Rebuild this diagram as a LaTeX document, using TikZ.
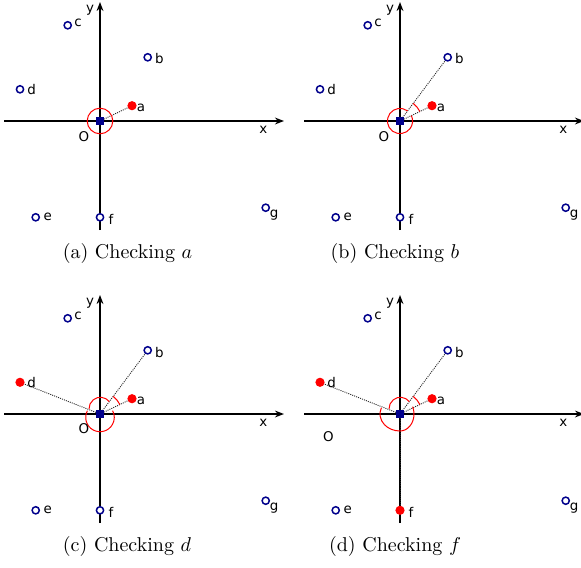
\documentclass[tikz,border=0pt]{standalone}
\usepackage{fontspec}
\newfontfamily\lblfont{DejaVu Sans}
\usetikzlibrary{arrows.meta,backgrounds,calc}
\definecolor{ptblue}{RGB}{0,0,140}
\newcommand\ckpanel[6]{%
 \begin{scope}[shift={(#2,#3)}]
  \coordinate (xs#1) at (4,121);
  \coordinate (xe#1) at (284,121);
  \coordinate (ys#1) at (100,230);
  \coordinate (ye#1) at (100,2);
  \begin{pgfonlayer}{background}
   \draw[axis] (xs#1) -- (xe#1);
   \draw[axis] (ys#1) -- (ye#1);
  \end{pgfonlayer}
  \node[originsq] (O#1) at (100,121) {};
  \node[redpt] (a#1) at (132,105.7) {};
  \node[openpt] (b#1) at (147.7,57.3) {};
  \node[openpt] (c#1) at (67.7,25.3) {};
  \node[#4] (d#1) at (20,89.3) {};
  \node[openpt] (e#1) at (35.7,217.3) {};
  \node[#5] (f#1) at (100,217.3) {};
  \node[openpt] (g#1) at (265.7,207.7) {};
  \node[lbl] (la#1) at (141,108.3) {a};
  \node[lbl] (lb#1) at (159.3,59) {b};
  \node[lbl] (lc#1) at (78,22.7) {c};
  \node[lbl] (ld#1) at (31.7,89.3) {d};
  \node[lbl] (le#1) at (47.7,217.3) {e};
  \node[lbl] (lf#1) at (111,219.3) {f};
  \node[lbl] (lg#1) at (274,215) {g};
  \node[lbl] (lx#1) at (263.3,130) {x};
  \node[lbl] (ly#1) at (90,10) {y};
  \node[lbl] (lO#1) at (#6) {O};
 \end{scope}}
\begin{document}
\begin{tikzpicture}[x=0.5pt,y=-0.5pt,
  axis/.style={line width=0.8pt,-{Stealth[length=4.5pt,width=3.4pt]}},
  openpt/.style={circle,draw=ptblue,fill=white,line width=0.75pt,minimum size=3.6pt,inner sep=0pt},
  redpt/.style={circle,fill=red,minimum size=4.6pt,inner sep=0pt},
  originsq/.style={rectangle,fill=ptblue,minimum size=3.7pt,inner sep=0pt},
  lbl/.style={inner sep=0pt,font=\lblfont\fontsize{6.7}{8}\selectfont},
  captext/.style={inner sep=0pt,font=\fontsize{10}{12}\selectfont},
  ray/.style={line width=0.45pt,black!85,dash pattern=on 0.5pt off 0.55pt},
  gap/.style={red,line width=0.5pt}]
\useasboundingbox (0,0) rectangle (581,567);
\ckpanel{A}{0}{0}{openpt}{openpt}{84,136.7}
\ckpanel{B}{300}{0}{openpt}{openpt}{84,136.7}
\ckpanel{C}{0}{293}{redpt}{openpt}{84,135.5}
\ckpanel{D}{300}{293}{redpt}{redpt}{28.3,143.7}
\begin{pgfonlayer}{background}
 % (a)
 \draw[ray] (OA.center) -- (aA.center);
 \draw[gap] (OA.center) circle[radius=6.4pt];
 % (b)
 \draw[ray] (OB.center) -- (aB.center);
 \draw[ray] (OB.center) -- (bB.center);
 \draw[gap] ([shift={(25.6:11pt)}]OB.center) arc[start angle=25.6,end angle=53.2,radius=11pt];
 \draw[gap] ([shift={(53.2:6.3pt)}]OB.center) arc[start angle=53.2,end angle=385.6,radius=6.3pt];
 % (c)
 \draw[ray] (OC.center) -- (aC.center);
 \draw[ray] (OC.center) -- (bC.center);
 \draw[ray] (OC.center) -- (dC.center);
 \draw[gap] ([shift={(25.6:11pt)}]OC.center) arc[start angle=25.6,end angle=53.2,radius=11pt];
 \draw[gap] ($(OC.center)+(0.2pt,2.65pt)+(38.6:5.7pt)$) arc[start angle=38.6,end angle=181.5,radius=5.7pt];
 \draw[gap] ($(OC.center)+(0pt,-1.7pt)+(152:7.15pt)$) arc[start angle=152,end angle=388,radius=7.15pt];
 % (d)
 \draw[ray] (OD.center) -- (aD.center);
 \draw[ray] (OD.center) -- (bD.center);
 \draw[ray] (OD.center) -- (dD.center);
 \draw[ray] (OD.center) -- (fD.center);
 \draw[gap] ([shift={(25.6:11pt)}]OD.center) arc[start angle=25.6,end angle=53.2,radius=11pt];
 \draw[gap] ($(OD.center)+(0.2pt,2.65pt)+(38.6:5.7pt)$) arc[start angle=38.6,end angle=181.5,radius=5.7pt];
 \draw[gap] ($(OD.center)+({10pt*cos(158.4)},{8.5pt*sin(158.4)})$) arc[start angle=158.4,end angle=270,x radius=10pt,y radius=8.5pt];
 \draw[gap] ($(OD.center)+(0pt,-8.5pt)$) arc[start angle=270,end angle=385.6,x radius=7pt,y radius=8.5pt];
\end{pgfonlayer}
\node[captext] (capA) at (127.5,253) {(a) Checking $a$};
\node[captext] (capB) at (395,253) {(b) Checking $b$};
\node[captext] (capC) at (127,546) {(c) Checking $d$};
\node[captext] (capD) at (395,546) {(d) Checking $f$};
\end{tikzpicture}
\end{document}
